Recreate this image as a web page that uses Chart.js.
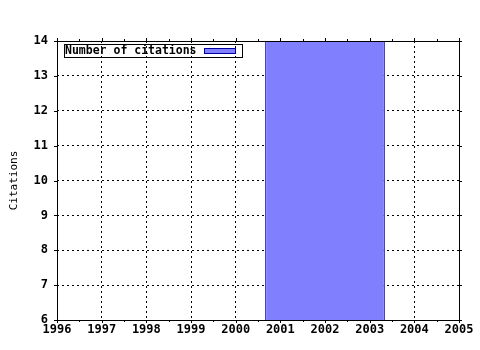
<!DOCTYPE html>
<html>
<head>
<meta charset="utf-8">
<script src="https://cdn.jsdelivr.net/npm/chart.js@4"></script>
<style>
  html, body { margin: 0; padding: 0; background: #fff; }
  #wrap { width: 480px; height: 350px; }
</style>
</head>
<body>
<div id="wrap"><canvas id="citations-chart"></canvas></div>
<script>
// data
const years = [2002];
const citations = [14];
const boxWidthYears = 2.68;
const xTicks = [1996, 2005];
const yTicks = [6, 14];
const seriesLabel = 'Number of citations';
const axisTitle = 'Citations';

const fill = '#8080ff';
const edge = '#0000a0';
const tickFont = { family: 'DejaVu Sans Mono', size: 12, weight: 'bold' };

// gnuplot-ish frame: border, small outward ticks, y title and a boxed key
const framePlugin = {
  id: 'frame',
  afterDraw(chart) {
    const ctx = chart.ctx;
    const a = chart.chartArea;
    const xs = chart.scales.x;
    const ys = chart.scales.y;
    ctx.save();
    ctx.strokeStyle = '#000';
    ctx.lineWidth = 1;
    ctx.strokeRect(Math.round(a.left) + 0.5, Math.round(a.top) + 0.5,
      Math.round(a.right - a.left), Math.round(a.bottom - a.top));

    ctx.beginPath();
    for (let v = xTicks[0]; v <= xTicks[1]; v += 0.5) {
      const px = Math.round(xs.getPixelForValue(v)) + 0.5;
      const len = Number.isInteger(v) ? 3 : 2;
      ctx.moveTo(px, a.bottom);
      ctx.lineTo(px, a.bottom + len);
      ctx.moveTo(px, a.top);
      ctx.lineTo(px, a.top - len);
    }
    for (let v = yTicks[0]; v <= yTicks[1]; v += 1) {
      const py = Math.round(ys.getPixelForValue(v)) + 0.5;
      ctx.moveTo(a.left, py);
      ctx.lineTo(a.left - 3, py);
      ctx.moveTo(a.right, py);
      ctx.lineTo(a.right + 3, py);
    }
    ctx.stroke();

    // y axis title
    ctx.fillStyle = '#000';
    ctx.font = '11px "DejaVu Sans Mono"';
    ctx.textAlign = 'center';
    ctx.textBaseline = 'middle';
    ctx.translate(14, (a.top + a.bottom) / 2);
    ctx.rotate(-Math.PI / 2);
    ctx.fillText(axisTitle, 0, 0);
    ctx.setTransform(1, 0, 0, 1, 0, 0);

    // key
    const kx = a.left + 7, ky = a.top + 3;
    ctx.strokeRect(kx + 0.5, ky + 0.5, 178, 13);
    ctx.font = 'bold 11.5px "DejaVu Sans Mono"';
    ctx.textAlign = 'left';
    ctx.fillText(seriesLabel, kx + 1, ky + 7.5);
    ctx.fillStyle = fill;
    ctx.fillRect(kx + 140, ky + 4, 32, 6);
    ctx.strokeStyle = edge;
    ctx.strokeRect(kx + 140.5, ky + 4.5, 31, 5);
    ctx.restore();
  }
};

new Chart(document.getElementById('citations-chart'), {
  type: 'bar',
  data: {
    datasets: [{
      label: seriesLabel,
      data: years.map((y, i) => ({ x: y, y: citations[i] })),
      backgroundColor: fill,
      borderColor: edge,
      borderWidth: { left: 1, right: 1, top: 0, bottom: 0 },
      borderSkipped: false,
      barPercentage: boxWidthYears,
      categoryPercentage: 1
    }]
  },
  options: {
    responsive: true,
    maintainAspectRatio: false,
    animation: false,
    layout: { padding: { top: 41, right: 21, left: 0, bottom: 0 } },
    plugins: {
      legend: { display: false },
      tooltip: { enabled: false }
    },
    scales: {
      x: {
        type: 'linear',
        offset: false,
        min: xTicks[0],
        max: xTicks[1],
        ticks: { stepSize: 1, color: '#000', font: tickFont, padding: 3,
          callback: v => String(v), maxRotation: 0, autoSkip: false },
        grid: { color: '#000', drawTicks: false, offset: false },
        border: { display: false, dash: [2, 3] },
        afterFit: s => { s.height = 30; }
      },
      y: {
        min: yTicks[0],
        max: yTicks[1],
        ticks: { stepSize: 1, color: '#000', font: tickFont, padding: 9 },
        grid: { color: '#000', drawTicks: false },
        border: { display: false, dash: [2, 3] },
        afterFit: s => { s.width = 57; }
      }
    }
  },
  plugins: [framePlugin]
});
</script>
</body>
</html>
